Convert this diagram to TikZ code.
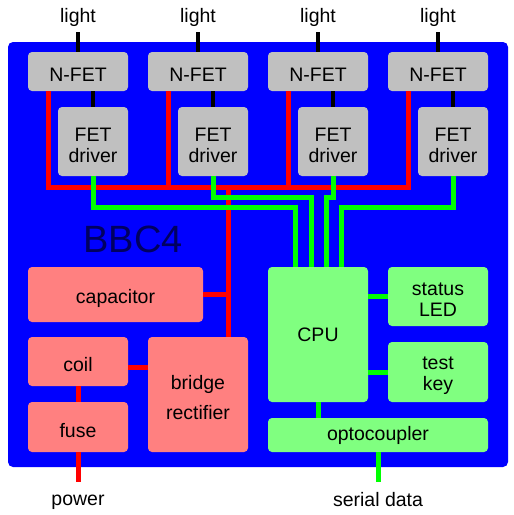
\documentclass[tikz,border=0pt]{standalone}
\usepackage{fontspec}
\setmainfont{Liberation Sans}
\usetikzlibrary{positioning}

\definecolor{panelblue}{RGB}{0,0,255}
\definecolor{titleblue}{RGB}{0,0,96}
\definecolor{fetgray}{RGB}{192,192,192}
\definecolor{powerpink}{RGB}{255,128,128}
\definecolor{logicgreen}{RGB}{128,255,128}
\definecolor{wirered}{RGB}{255,0,0}
\definecolor{wiregreen}{RGB}{0,255,0}

\begin{document}
\begin{tikzpicture}[
    x=1pt, y=-1pt,
    boxtext/.style={inner sep=0pt, align=center,
      font=\fontsize{19.5}{21}\selectfont},
    box/.style={rounded corners=4pt, inner sep=0pt,
      label={[boxtext, yshift=-3.5pt]center:#1}},
    flatbox/.style={rounded corners=4pt, inner sep=0pt,
      label={[boxtext]center:#1}},
    fetbox/.style={box=#1, fill=fetgray, minimum width=100pt, minimum height=39pt},
    drvbox/.style={box=#1, fill=fetgray, minimum width=70pt, minimum height=69pt},
    tag/.style={boxtext, anchor=base},
    wire/.style={line width=5pt},
    redwire/.style={wire, draw=wirered},
    greenwire/.style={wire, draw=wiregreen},
    blackwire/.style={line width=4pt, draw=black},
  ]
  \useasboundingbox (0,0) rectangle (514,515);
  \fill[panelblue, rounded corners=5pt] (8,42) rectangle (508,467);
  \node[font=\fontsize{38}{40}\selectfont, text=titleblue, inner sep=0pt] (title) at (133,239) {BBC4};

  % lamp channels
  \foreach \i in {1,...,4} {
    \node[fetbox={N-FET}] (nfet\i) at ({78+120*(\i-1)},71.5) {};
    \node[drvbox={FET\\driver}] (drv\i) at ({93+120*(\i-1)},141.5) {};
    \node[tag] (light\i) at ({78+120*(\i-1)},22.5) {light};
    \coordinate (lt\i) at ({78+120*(\i-1)},32);
  }

  % power side
  \node[box={capacitor}, fill=powerpink, minimum width=175pt, minimum height=55pt] (cap) at (115.5,294.5) {};
  \node[box={coil}, fill=powerpink, minimum width=100pt, minimum height=49pt] (coil) at (78,361.5) {};
  \node[box={fuse}, fill=powerpink, minimum width=100pt, minimum height=50pt] (fuse) at (78,427) {};
  \node[box={bridge\\[9pt]rectifier}, fill=powerpink, minimum width=100pt, minimum height=115pt] (bridge) at (198,394.5) {};
  \node[tag] (power) at (78,505) {power};
  \coordinate (pwr) at (78,482);

  % logic side
  \node[flatbox={CPU}, fill=logicgreen, minimum width=100pt, minimum height=135pt] (cpu) at (318,334.5) {};
  \node[box={status\\LED}, fill=logicgreen, minimum width=100pt, minimum height=59pt] (led) at (438,296.5) {};
  \node[box={test\\key}, fill=logicgreen, minimum width=100pt, minimum height=60pt] (key) at (438,372) {};
  \node[flatbox={optocoupler}, fill=logicgreen, minimum width=220pt, minimum height=34pt] (opto) at (378,435) {};
  \node[tag] (serial) at (378,506) {serial data};
  \coordinate (ser) at (378,482);

  % supply rail
  \coordinate (rbus) at (228,187);
  \foreach \i in {1,...,4}
    \draw[redwire] ([xshift=-30pt]nfet\i.south) |- (rbus);
  \draw[redwire] (rbus) -- (rbus |- bridge.north);
  \draw[redwire] (cap.east) -- (cap.east -| rbus);
  \draw[redwire] ([yshift=-5.5pt]coil.east) -- ([yshift=-5.5pt]coil.east -| bridge.west);
  \draw[redwire] (coil.south) -- (fuse.north);
  \draw[redwire] (fuse.south) -- (pwr);

  % control lines
  \foreach \i/\y/\x in {1/207/295, 2/197/311, 3/197/326, 4/207/341}
    \draw[greenwire] (drv\i.south) |- (\x,\y) -- (cpu.north -| \x,0);
  \draw[greenwire] (cpu.east |- led.west) -- (led.west);
  \draw[greenwire] (cpu.east |- key.west) -- (key.west);
  \draw[greenwire] (cpu.south) -- (cpu.south |- opto.north);
  \draw[greenwire] (opto.south) -- (ser);

  % gates and lamps
  \foreach \i in {1,...,4} {
    \draw[blackwire] (nfet\i.north) -- (lt\i);
    \draw[blackwire] (drv\i.north) -- (drv\i.north |- nfet\i.south);
  }
\end{tikzpicture}
\end{document}
